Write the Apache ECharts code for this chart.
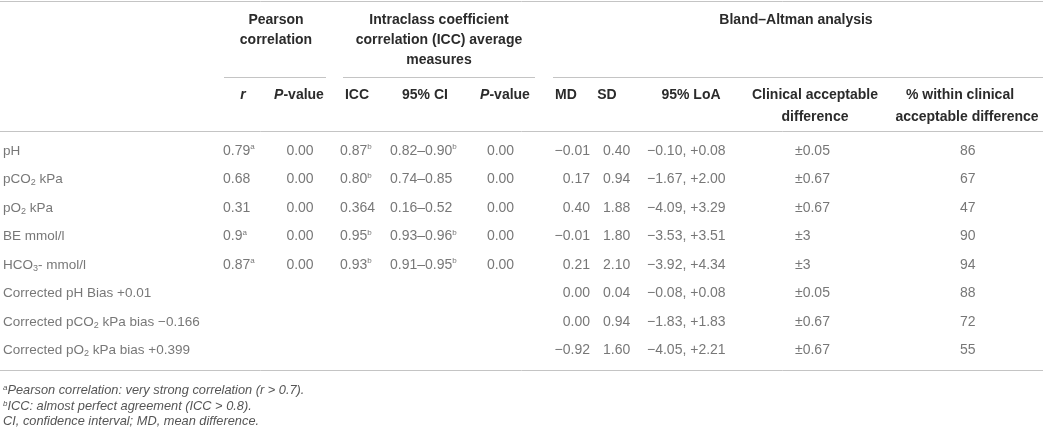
<!DOCTYPE html>
<html>
<head>
<meta charset="utf-8">
<script src="https://cdn.jsdelivr.net/npm/echarts@6/dist/echarts.min.js"></script>
<style>
  html, body { margin: 0; padding: 0; background: #fff; }
  #table { width: 1055px; height: 428px; }
</style>
</head>
<body>
<div id="table"></div>
<script>
/* table values, one array per column */
var rowLabels = [
    'pH', 'pCO{s|2} kPa', 'pO{s|2} kPa', 'BE mmol/l', 'HCO{s|3}- mmol/l',
    'Corrected pH Bias +0.01', 'Corrected pCO{s|2} kPa bias \u22120.166', 'Corrected pO{s|2} kPa bias +0.399'
];
var pearsonR     = ['0.79', '0.68', '0.31', '0.9', '0.87'];
var pearsonRNote = ['a', '', '', 'a', 'a'];
var pearsonP     = ['0.00', '0.00', '0.00', '0.00', '0.00'];
var iccValue     = ['0.87', '0.80', '0.364', '0.95', '0.93'];
var iccNote      = ['b', 'b', '', 'b', 'b'];
var iccCI        = ['0.82\u20130.90', '0.74\u20130.85', '0.16\u20130.52', '0.93\u20130.96', '0.91\u20130.95'];
var iccCINote    = ['b', '', '', 'b', 'b'];
var iccP         = ['0.00', '0.00', '0.00', '0.00', '0.00'];
var meanDiff     = ['\u22120.01', '0.17', '0.40', '\u22120.01', '0.21', '0.00', '0.00', '\u22120.92'];
var stdDev       = ['0.40', '0.94', '1.88', '1.80', '2.10', '0.04', '0.94', '1.60'];
var limitsOfAgreement = ['\u22120.10, +0.08', '\u22121.67, +2.00', '\u22124.09, +3.29', '\u22123.53, +3.51',
                         '\u22123.92, +4.34', '\u22120.08, +0.08', '\u22121.83, +1.83', '\u22124.05, +2.21'];
var clinicalDiff = ['\u00b10.05', '\u00b10.67', '\u00b10.67', '\u00b13', '\u00b13', '\u00b10.05', '\u00b10.67', '\u00b10.67'];
var withinPct    = [86, 67, 47, 90, 94, 88, 72, 55];

var footnotes = [
    '{p|a}Pearson correlation: very strong correlation (r > 0.7).',
    '{p|b}ICC: almost perfect agreement (ICC > 0.8).',
    'CI, confidence interval; MD, mean difference.'
];

function withNote(vals, notes) {
    return vals.map(function (v, i) { return notes[i] ? v + '{p|' + notes[i] + '}' : v; });
}

var FONT = '"Liberation Sans", Arial, Helvetica, sans-serif';
var BODY = '#555555';
var HEAD = '#2b2b2b';
var RULE = '#c4c4c4';

/* column anchors on the x axis (0..1055) */
var columns = [
    {cells: rowLabels, x: 3, align: 'left', size: 13.5},
    {cells: withNote(pearsonR, pearsonRNote), x: 223, align: 'left'},
    {cells: pearsonP, x: 300, align: 'center'},
    {cells: withNote(iccValue, iccNote), x: 340, align: 'left'},
    {cells: withNote(iccCI, iccCINote), x: 390, align: 'left'},
    {cells: iccP, x: 500.5, align: 'center'},
    {cells: meanDiff, x: 590, align: 'right'},
    {cells: stdDev, x: 603, align: 'left'},
    {cells: limitsOfAgreement, x: 647, align: 'left'},
    {cells: clinicalDiff, x: 795, align: 'left'},
    {cells: withinPct.map(String), x: 960, align: 'left'}
];

var series = columns.map(function (col) {
    var size = col.size || 14;
    var data = [];
    col.cells.forEach(function (txt, i) {
        if (txt !== '') data.push([col.x, i, txt]);
    });
    return {
        type: 'scatter',
        symbolSize: 1,
        itemStyle: {color: 'transparent'},
        silent: true,
        data: data,
        label: {
            show: true,
            position: 'inside',
            align: col.align,
            verticalAlign: 'middle',
            fontSize: size,
            lineHeight: 16,
            color: BODY,
            fontFamily: FONT,
            formatter: function (p) { return p.value[2]; },
            rich: {
                p: {fontSize: 8, lineHeight: 9, verticalAlign: 'top', color: BODY, fontFamily: FONT},
                s: {fontSize: 9, lineHeight: 9, verticalAlign: 'bottom', color: BODY, fontFamily: FONT}
            }
        }
    };
});

function headText(text, x, y) {
    return {
        type: 'text', silent: true,
        style: {
            text: text, x: x, y: y,
            align: 'center', verticalAlign: 'middle',
            fontSize: 14, fontWeight: 'bold', fontFamily: FONT, fill: HEAD,
            rich: {i: {fontStyle: 'italic', fontWeight: 'bold', fontSize: 14, fontFamily: FONT, fill: HEAD}}
        }
    };
}

function rule(x1, x2, y) {
    return {type: 'line', silent: true, shape: {x1: x1, y1: y, x2: x2, y2: y},
            style: {stroke: RULE, lineWidth: 1}};
}

var graphics = [
    rule(0, 1043, 1.5),
    rule(224, 326, 77.5), rule(343, 535, 77.5), rule(553, 1043, 77.5),
    rule(0, 1043, 131.5),
    rule(0, 1043, 370.5),

    headText('Pearson', 276, 20), headText('correlation', 276, 40),
    headText('Intraclass coefficient', 439, 20),
    headText('correlation (ICC) average', 439, 40),
    headText('measures', 439, 60),
    headText('Bland\u2013Altman analysis', 796, 20),

    headText('{i|r}', 243, 95),
    headText('{i|P}-value', 299, 95),
    headText('ICC', 357, 95),
    headText('95% CI', 425, 95),
    headText('{i|P}-value', 505, 95),
    headText('MD', 566, 95),
    headText('SD', 607, 95),
    headText('95% LoA', 691, 95),
    headText('Clinical acceptable', 815, 95), headText('difference', 815, 117),
    headText('% within clinical', 960, 95), headText('acceptable difference', 967, 117)
];

footnotes.forEach(function (t, i) {
    graphics.push({
        type: 'text', silent: true,
        style: {
            text: t, x: 3, y: 390.5 + i * 15.5,
            align: 'left', verticalAlign: 'middle',
            fontSize: 12.8, fontStyle: 'italic', fontFamily: FONT, fill: BODY,
            rich: {p: {fontSize: 8, lineHeight: 9, verticalAlign: 'top', fontStyle: 'italic', fontFamily: FONT, fill: BODY}}
        }
    });
});

var option = {
    backgroundColor: '#fff',
    animation: false,
    grid: {left: 0, right: 0, top: 136.75, height: 228},
    xAxis: {type: 'value', min: 0, max: 1055, show: false},
    yAxis: {
        type: 'category',
        inverse: true,
        data: rowLabels.map(function (r, i) { return i; }),
        show: false
    },
    graphic: graphics,
    series: series
};

var chartTable = echarts.init(document.getElementById('table'));
chartTable.setOption(option);
</script>
</body>
</html>
